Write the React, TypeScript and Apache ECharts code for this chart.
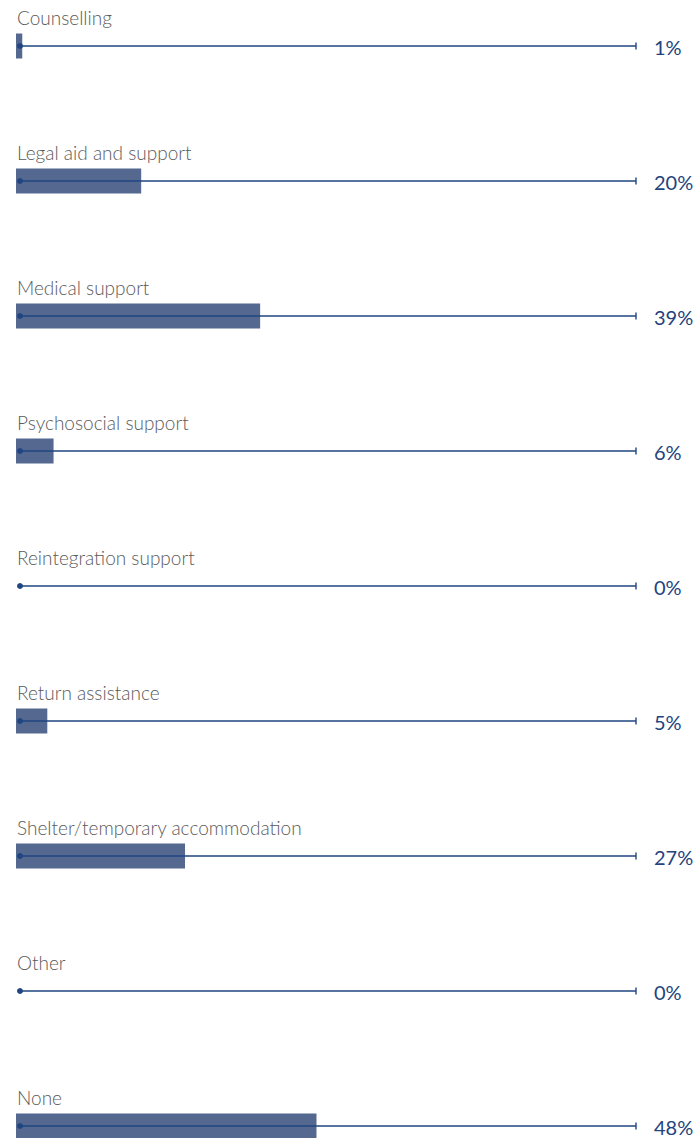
import React, { useEffect, useRef } from "react";
import * as echarts from "echarts";

const categories = [
  "Counselling",
  "Legal aid and support",
  "Medical support",
  "Psychosocial support",
  "Reintegration support",
  "Return assistance",
  "Shelter/temporary accommodation",
  "Other",
  "None",
];
const values = [1, 20, 39, 6, 0, 5, 27, 0, 48];
const valueLabels = ["1%", "20%", "39%", "6%", "0%", "5%", "27%", "0%", "48%"];

const BAR_COLOR = "#55688f";
const LINE_COLOR = "#1f4682";
const TEXT_COLOR = "#5a5a5a";
const VALUE_COLOR = "#23437e";

export default function App() {
  const ref = useRef<HTMLDivElement>(null);
  useEffect(() => {
    if (!ref.current) return;
    const chart = echarts.init(ref.current, null, { renderer: "svg" });
    chart.setOption({
      animation: false,
      grid: { left: 16, right: 53, top: 46, bottom: 12 },
      xAxis: { type: "value", min: 0, max: 100, show: false },
      yAxis: {
        type: "category",
        data: categories,
        inverse: true,
        boundaryGap: false,
        show: false,
      },
      series: [
        {
          type: "bar",
          data: values,
          barWidth: 25,
          itemStyle: { color: BAR_COLOR },
          z: 2,
        },
        {
          type: "custom",
          z: 3,
          data: values.map((v, i) => [v, i]),
          encode: { x: 0, y: 1 },
          renderItem: (params: any, api: any) => {
            const idx = api.value(1);
            const p0 = api.coord([0, idx]);
            const p100 = api.coord([100, idx]);
            const y = p0[1];
            const xs = p0[0] + 4;
            const xe = p100[0] - 6;
            return {
              type: "group",
              children: [
                {
                  type: "line",
                  shape: { x1: xs, y1: y, x2: xe, y2: y },
                  style: { stroke: LINE_COLOR, lineWidth: 1.4 },
                },
                {
                  type: "line",
                  shape: { x1: xe, y1: y - 3.5, x2: xe, y2: y + 3.5 },
                  style: { stroke: LINE_COLOR, lineWidth: 1.4 },
                },
                {
                  type: "circle",
                  shape: { cx: xs, cy: y, r: 3 },
                  style: { fill: LINE_COLOR },
                },
                {
                  type: "text",
                  x: p0[0] + 1,
                  y: y - 29,
                  style: {
                    text: categories[idx],
                    fill: TEXT_COLOR,
                    font: "300 19px Lato, 'Open Sans', sans-serif",
                    verticalAlign: "middle",
                    align: "left",
                  },
                },
                {
                  type: "text",
                  x: p100[0] + 12,
                  y: y + 1,
                  style: {
                    text: valueLabels[idx],
                    fill: VALUE_COLOR,
                    font: "400 20px Lato, 'Open Sans', sans-serif",
                    verticalAlign: "middle",
                    align: "left",
                  },
                },
              ],
            };
          },
        },
      ],
    });
    return () => chart.dispose();
  }, []);
  return (
    <div
      ref={ref}
      style={{ position: "fixed", left: 0, top: 0, width: 695, height: 1138, background: "#fff" }}
    />
  );
}
